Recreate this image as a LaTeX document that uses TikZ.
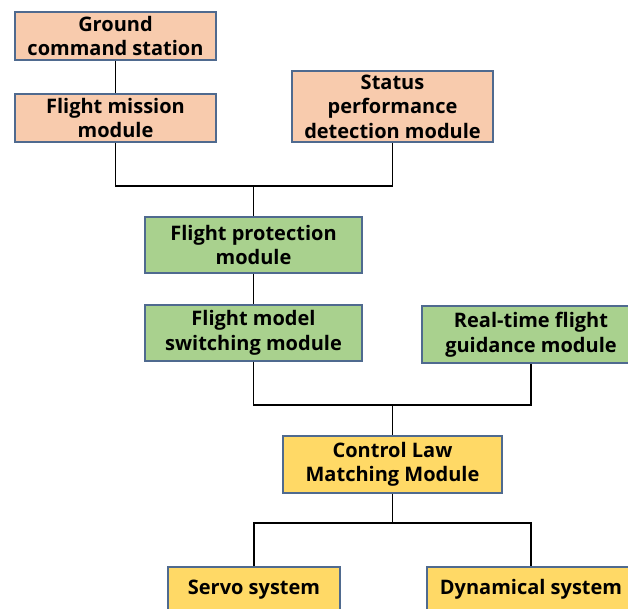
\documentclass[tikz,border=0pt]{standalone}
\usepackage{fontspec}
\setmainfont{Open Sans}
\begin{document}
\begin{tikzpicture}[x=1pt,y=-1pt,
  box/.style={draw=boxedge, line width=1.3pt, align=center, inner sep=0pt,
    font=\fontsize{20}{24.5}\selectfont\bfseries, text=black},
  peach/.style={box, fill=peachfill},
  leaf/.style={box, fill=leaffill},
  gold/.style={box, fill=goldfill},
  wire/.style={draw=black, line width=1.6pt}]
\definecolor{boxedge}{HTML}{4F6A8F}
\definecolor{peachfill}{HTML}{F8CBAD}
\definecolor{leaffill}{HTML}{A9D18E}
\definecolor{goldfill}{HTML}{FFD966}
\useasboundingbox (0,0) rectangle (628,608);
\clip (0,0) rectangle (628,608);

% upper tier
\node[peach, minimum width=201pt, minimum height=48pt] (gcs) at (115.5,36) {Ground\\command station};
\node[peach, minimum width=201pt, minimum height=48pt] (fmm) at (115.5,118) {Flight mission\\module};
\node[peach, minimum width=201pt, minimum height=71pt] (spd) at (392.5,106.5) {Status\\performance\\detection module};

% middle tier
\node[leaf, minimum width=217pt, minimum height=56pt] (fpm) at (253.5,245) {Flight protection\\module};
\node[leaf, minimum width=217pt, minimum height=56pt] (fms) at (253.5,333) {Flight model\\switching module};
\node[leaf, minimum width=218pt, minimum height=57pt] (rtg) at (531,334.5) {Real-time flight\\guidance module};

% lower tier
\node[gold, minimum width=219pt, minimum height=57pt] (clm) at (392.5,464.5) {Control Law\\Matching Module};
\node[gold, minimum width=172pt, minimum height=45pt] (srv) at (254,589.5) {Servo system};
\node[gold, minimum width=208pt, minimum height=45pt] (dyn) at (531,589.5) {Dynamical system};

% junction points
\coordinate (j1) at (253.5,186);
\coordinate (j2) at (392.5,405);
\coordinate (j3) at (392.5,523);

% connectors
\draw[wire] (gcs.south) -- (fmm.north);
\draw[wire] (fmm.south) |- (j1) -| (spd.south);
\draw[wire] (j1) -- (fpm.north);
\draw[wire] (fpm.south) -- (fms.north);
\draw[wire] (fms.south) |- (j2) -| (rtg.south);
\draw[wire] (j2) -- (clm.north);
\draw[wire] (clm.south) -- (j3);
\draw[wire] (srv.north) |- (j3) -| (dyn.north);
\end{tikzpicture}
\end{document}
